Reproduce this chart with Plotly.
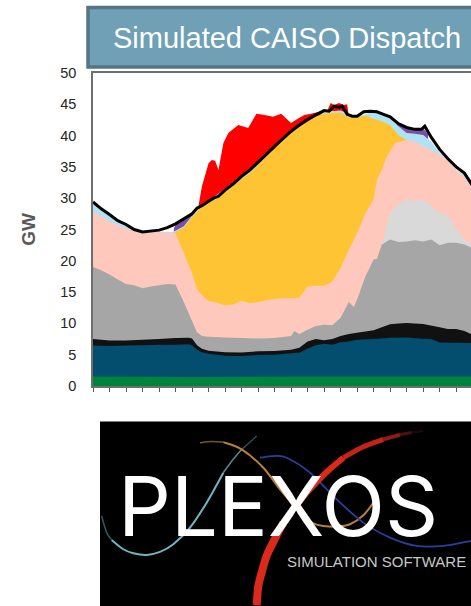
import plotly.graph_objects as go

# Values: upper edge of each band, in GW, against the hour tick index
green_h = [0, 6, 12, 23]
green_top = [1.5, 1.45, 1.5, 1.5]

navy_h = [0,1,2,3,4,5,5.8,6,6.3,6.6,7,8,9,10,11,12,12.5,13,13.5,14,14.5,15,15.5,16,17,18,19,20,20.5,21,22,23]
navy_top = [6.45,6.4,6.45,6.5,6.6,6.6,6.65,6.5,5.8,5.4,5.15,4.85,4.8,4.95,5.0,5.25,5.3,6.0,6.5,6.75,6.6,7.0,7.1,7.4,7.5,7.7,7.75,7.55,7.5,6.95,6.9,6.85]

black_h = [0,1,2,3,4,5,5.8,6,6.3,6.6,7,8,9,10,11,12,12.5,13,13.5,14,14.5,15,15.5,16,16.5,17,17.5,18,18.5,19,20,21,21.5,22,22.5,23]
black_top = [7.5,7.25,7.25,7.4,7.5,7.65,7.7,7.6,6.5,5.95,5.65,5.4,5.35,5.55,5.6,5.8,6.1,7.1,7.5,7.3,7.5,8.0,8.3,8.5,8.7,8.9,9.4,9.85,10.0,10.05,9.9,9.4,9.1,9.1,8.8,8.2]

gray_h = [0,0.5,1,1.5,2,2.5,3,3.5,4,4.5,5,5.5,6,6.3,6.6,7,8,9,10,11,12,12.2,12.5,13,13.5,14,14.5,15,15.5,15.8,16,16.5,17,17.2,17.5,18,18.5,19,19.5,20,20.5,21,21.5,22,22.5,23]
gray_top = [19,18.5,17.8,17,16.3,16.1,15.6,15.9,16.1,16.3,16.2,13.4,10.4,8.6,8.0,7.85,7.75,7.65,7.6,7.65,8.0,8.8,8.3,9.0,9.6,9.8,9.7,10.9,13.4,12.6,13.8,17.5,20.2,20.3,22.6,23.4,23.0,23.1,23.3,23.1,23.4,22.5,22.9,22.9,22.6,22.0]

lightgray_h = [17.3,17.5,18,18.5,19,19.5,20,20.5,21,21.5,22,22.5,23]
lightgray_top = [20.3,22.6,27.6,29.0,29.7,29.5,29.8,28.8,27.5,27.3,25,23.5,22.3]

pink_h = [0,0.5,1,1.5,2,2.5,3,3.5,4,4.5,5,5.5,6,6.3,6.6,7,7.5,8,8.5,9,9.5,10,10.5,11,11.5,12,12.5,13,13.5,14,14.5,15,15.5,16,16.5,17,17.2,17.5,17.8,18.3,19,19.5,20,20.5,21,21.5,22,22.5,23]
pink_top = [27.9,27.1,26.3,25.7,25.2,24.7,24.4,24.5,24.6,24.5,24.4,21.2,18,15.5,14.5,13.6,13.3,12.9,13.0,13.6,13.2,13.4,13.7,13.9,14.0,14.0,14.1,15.9,16.0,16.0,16.7,18.85,21.8,24.4,27.6,29.8,32.9,34.6,36.65,38.8,39.3,39.1,38.3,37.7,37,35.9,34.6,33.3,31.5]

yellow_h = [4.8,5,5.5,6,6.5,7,7.5,8,8.5,9,9.5,10,10.5,11,11.5,12,12.5,13,13.5,14,14.5,15,15.5,16,16.5,17,17.5,18,18.5,19]
yellow_top = [24.4,24.6,25.3,27.0,28.4,29.3,30.2,31,32.2,33.1,34.0,35.3,36.8,37.9,39.2,40.4,41.4,42.2,43.1,43.5,43.6,43.7,42.9,42.9,43.2,42.7,42.3,41.7,40.1,39.3]

blue_h = [0,1,2,3,4,4.8,5,5.5,6,6.5,7,14,15,16,17,18,18.5,19,19.5,20,20.5,21,21.5,22,22.5,23]
blue_top = [29.2,27.2,25.6,24.4,24.7,24.6,24.8,25.5,27.2,28.5,29.5,43.8,44.0,43,43.8,42.8,41.5,40.4,40.3,40.1,39.0,37.3,35.9,34.6,33.7,31.6]

purple_left_h = [4.9,5,5.3,5.6,5.9,6.1]
purple_left_top = [25.2,25.7,26.2,26.9,27.4,27.3]
purple_right_h = [18.3,18.6,19,19.5,20,20.3]
purple_right_top = [41.8,41.6,41.2,41.1,41.2,40.2]

red_h = [6.4,6.6,7,7.2,7.4,7.6,7.9,8.2,8.8,9.4,9.9,10.4,10.9,11.4,12,12.4,12.8,13.2,13.7,14.2,14.4,14.6,14.9,15.2,15.4,15.5]
red_top = [28.9,31.9,35.6,36.1,36,34.5,38.8,40.4,41.7,41.2,43.5,43.3,43,43.5,42,42.7,43.3,43.5,43.8,44,45.2,44.9,45.2,44.9,45,43]

load_h = [0,0.5,1,1.5,2,2.5,3,3.5,4,4.5,5,5.5,6,6.3,6.6,7,7.3,7.6,8,8.5,9,9.5,10,10.5,11,11.5,12,12.5,13,13.5,14,14.3,14.6,14.9,15.1,15.4,15.7,16,16.4,16.8,17.2,17.6,18,18.5,19,19.5,19.9,20.1,20.5,21,21.5,22,22.5,23]
load_gw = [29.4,28.3,27.4,26.4,25.8,25.0,24.6,24.7,24.9,25.3,25.9,26.7,27.5,28.4,28.8,29.5,30.0,30.3,31.3,32.3,33.5,34.5,35.7,37,38.3,39.5,40.7,41.7,42.6,43.3,44.0,43.9,44.7,44.5,44.7,43.4,43.1,43.1,43.8,43.9,43.8,43.4,43.0,41.9,41.3,41.0,41.0,41.5,39.7,37.8,36.3,35,34,32]

y_ticks = [0, 5, 10, 15, 20, 25, 30, 35, 40, 45, 50]

# Bands are painted from the tallest down, each one filled to the axis
bands = [
    (red_h, red_top, "#FF0000"),
    (purple_left_h, purple_left_top, "#7B4FA3"),
    (purple_right_h, purple_right_top, "#7B4FA3"),
    (blue_h, blue_top, "#B0E2F6"),
    (yellow_h, yellow_top, "#FFC433"),
    (pink_h, pink_top, "#FFC8BC"),
    (lightgray_h, lightgray_top, "#D9D9D9"),
    (gray_h, gray_top, "#A6A6A6"),
    (black_h, black_top, "#111111"),
    (navy_h, navy_top, "#034E6E"),
    (green_h, green_top, "#00843D"),
]

fig = go.Figure()
for h, top, colour in bands:
    fig.add_trace(go.Scatter(x=h, y=top, mode="none", fill="tozeroy", fillcolor=colour,
                             hoverinfo="skip", showlegend=False))
fig.add_trace(go.Scatter(x=load_h, y=load_gw, mode="lines", line=dict(color="#000000", width=3),
                         hoverinfo="skip", showlegend=False))

# Page-pixel helpers for the banner and the logo, which sit outside the plot area
L, R, T, B = 93.0, 471.0, 73.0, 386.5
def px(x): return (x - L) / (R - L)
def py(y): return (B - y) / (B - T)

def smooth(points):
    pts = [(px(90 + a / 3), py(410 + b / 3)) for a, b in points]
    out = f"M {pts[0][0]:.4f},{pts[0][1]:.4f}"
    for i in range(len(pts) - 1):
        p0 = pts[max(i - 1, 0)]
        p1 = pts[i]
        p2 = pts[i + 1]
        p3 = pts[min(i + 2, len(pts) - 1)]
        c1 = (p1[0] + (p2[0] - p0[0]) / 6, p1[1] + (p2[1] - p0[1]) / 6)
        c2 = (p2[0] - (p3[0] - p1[0]) / 6, p2[1] - (p3[1] - p1[1]) / 6)
        out += f" C {c1[0]:.4f},{c1[1]:.4f} {c2[0]:.4f},{c2[1]:.4f} {p2[0]:.4f},{p2[1]:.4f}"
    return out

def curve(points, colour, width):
    return dict(type="path", xref="paper", yref="paper", path=smooth(points),
                line=dict(color=colour, width=width), layer="above")

shapes = [
    dict(type="rect", xref="paper", yref="paper", x0=px(88), x1=px(490), y0=py(67), y1=py(7.5),
         fillcolor="#6FA0B6", line=dict(color="#557585", width=3.5), layer="above"),
    dict(type="rect", xref="paper", yref="paper", x0=px(100), x1=px(490), y0=py(622), y1=py(422),
         fillcolor="#000000", line=dict(width=0), layer="above"),
    # teal sweep, dim at both ends
    curve([(500,80),(478,100),(455,120)], "#2C4E55", 1.5),
    curve([(455,120),(428,152),(400,190)], "#4F8C96", 1.5),
    curve([(400,190),(350,280),(300,355),(250,405),(210,428),(170,437),(130,432),(100,420),(65,392)], "#6FB6C4", 2),
    curve([(65,392),(50,370),(35,320)], "#2F5A62", 1.5),
    # orange sweep
    curve([(330,100),(365,96),(400,98)], "#7A5427", 1.5),
    curve([(400,98),(455,120),(520,175),(570,240),(640,320),(670,342),(700,350),(740,352),(780,345),(820,318),(850,280)], "#B9803C", 2),
    # blue sweep
    curve([(510,145),(550,140),(590,145),(660,190),(740,270),(820,340),(900,385),(980,410),(1060,410),(1143,395)], "#27409B", 1.8),
    # red arc, thick at the foot and fading at the top
    curve([(500,588),(505,530),(515,490),(530,440),(550,398),(580,340)], "#DA2A1C", 8),
    curve([(580,340),(620,288),(660,240),(710,188),(760,145)], "#DA2A1C", 6),
    curve([(760,145),(820,112),(880,90)], "#C42418", 5),
    curve([(880,90),(930,76)], "#8E1D14", 4),
    curve([(930,76),(965,69)], "#50100B", 3),
    curve([(965,69),(1000,65)], "#240705", 2),
]

annotations = [
    dict(text="Simulated CAISO Dispatch", xref="paper", yref="paper", x=px(110.5), y=py(38),
         xanchor="left", yanchor="middle", showarrow=False,
         font=dict(family="Liberation Sans", size=29, color="#FFFFFF")),
    dict(text="PLEXOS", xref="paper", yref="paper", x=px(116), y=py(507),
         xanchor="left", yanchor="middle", showarrow=False,
         font=dict(family="Inter", size=83, color="#FFFFFF", weight=400)),
    dict(text="SIMULATION SOFTWARE", xref="paper", yref="paper", x=px(285), y=py(562),
         xanchor="left", yanchor="middle", showarrow=False,
         font=dict(family="Liberation Sans", size=15, color="#C8C8C8")),
]

fig.update_layout(
    width=471, height=606, autosize=False,
    margin=dict(l=L, r=0, t=T, b=606 - B, pad=0),
    plot_bgcolor="#FFFFFF", paper_bgcolor="#FFFFFF",
    showlegend=False, shapes=shapes, annotations=annotations,
    font=dict(family="Liberation Sans", color="#262626"),
)
fig.update_xaxes(range=[0, 22.9], dtick=1, tick0=0, ticks="outside", ticklen=4, tickwidth=1,
                 tickcolor="#555555", showticklabels=False, showgrid=False, zeroline=False,
                 showline=True, linecolor="#6E6E6E", linewidth=1.5, mirror=True)
fig.update_yaxes(range=[0, 50], tickvals=y_ticks, ticks="", showgrid=False, zeroline=False,
                 showline=True, linecolor="#6E6E6E", linewidth=1.5, mirror=False,
                 tickfont=dict(size=14.5, color="#262626"), ticklabelstandoff=12,
                 title=dict(text="<b>GW</b>", font=dict(size=19, color="#595959"), standoff=20))

fig.write_html("out.html", config=dict(displayModeBar=False),
               post_script="document.body.style.margin='0';document.body.style.overflow='hidden';")
